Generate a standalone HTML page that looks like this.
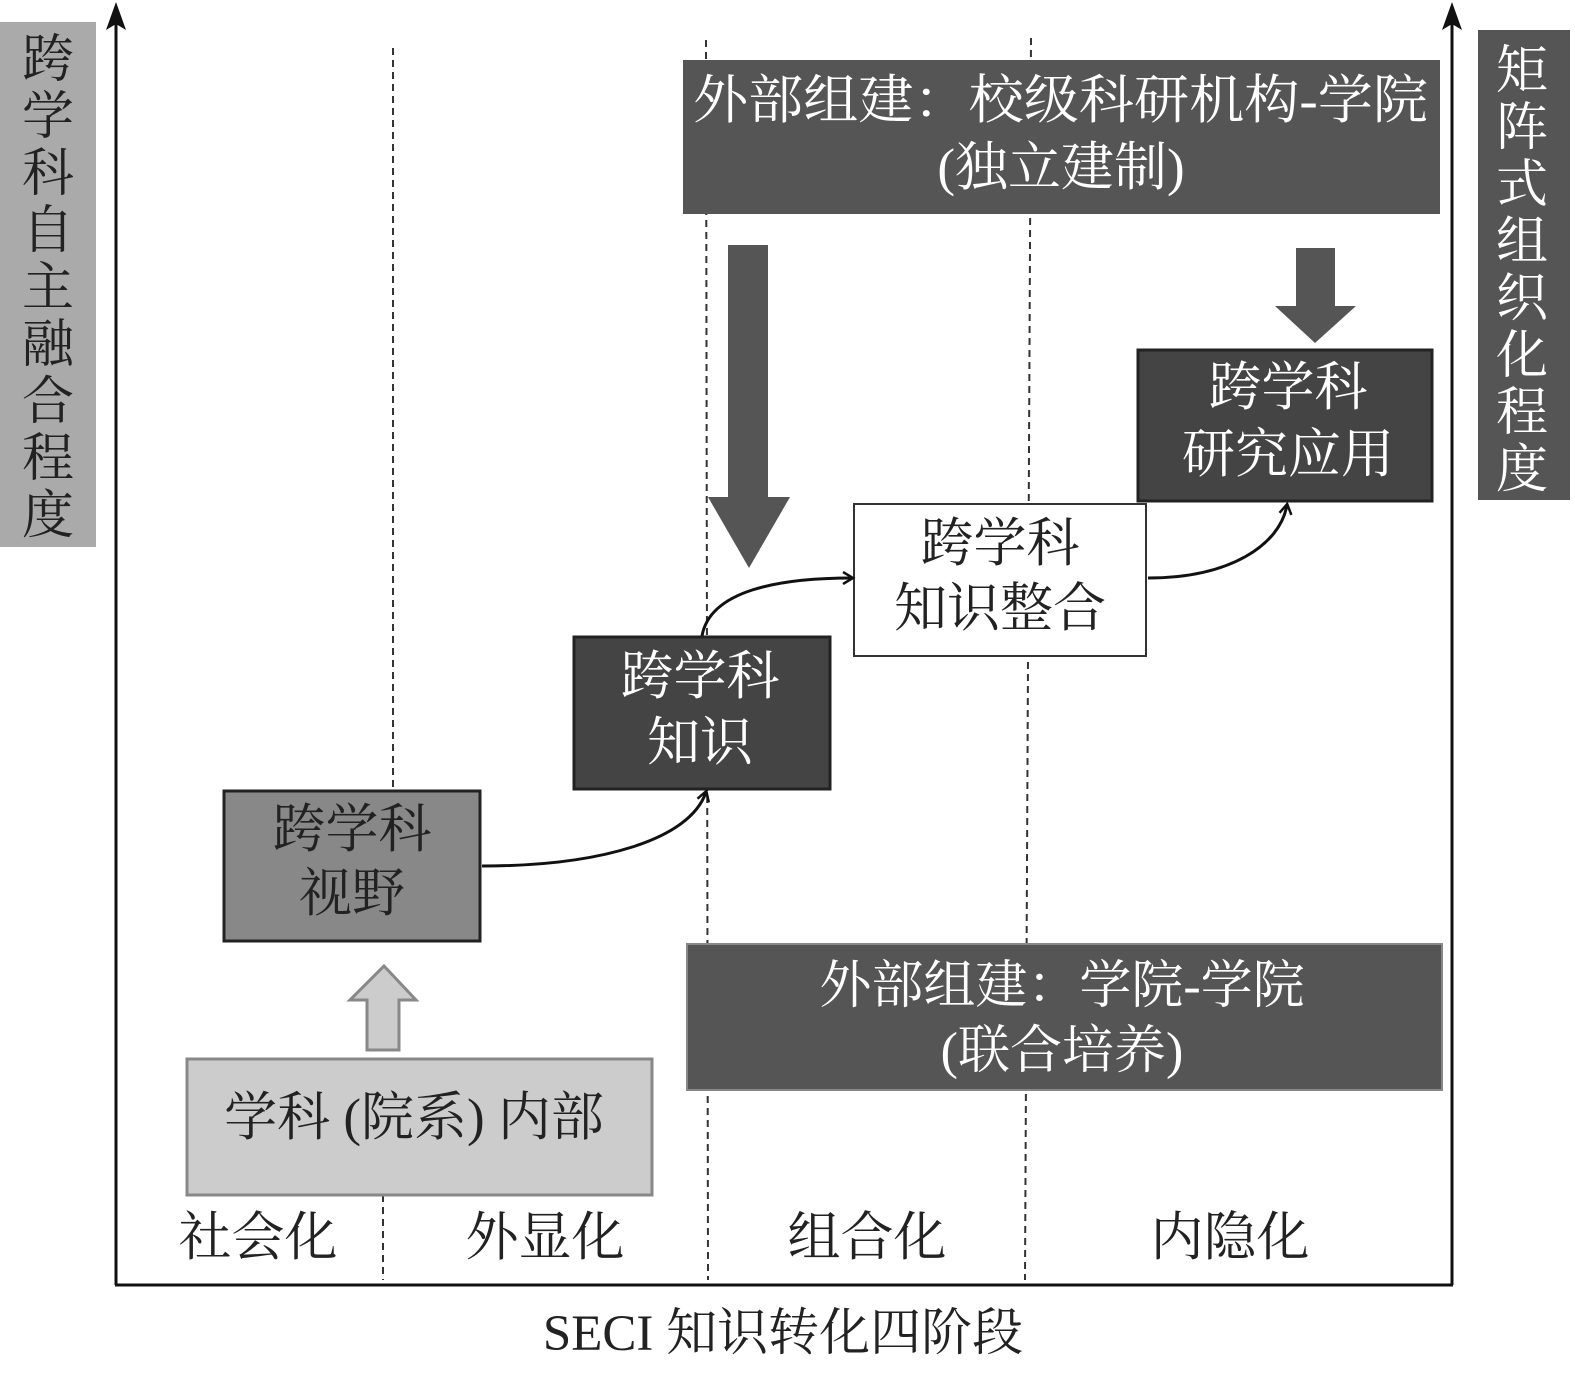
<!DOCTYPE html>
<html><head><meta charset="utf-8"><style>
html,body{margin:0;padding:0;background:#fff;}
svg{display:block;}
text{font-family:"Liberation Serif","Noto Serif CJK SC",serif;}
</style></head><body>
<svg width="1575" height="1377" viewBox="0 0 1575 1377" xmlns="http://www.w3.org/2000/svg">
<defs>
<marker id="ah" markerWidth="14" markerHeight="14" refX="10" refY="7" orient="auto" markerUnits="userSpaceOnUse">
<path d="M1,1 L11,7 L1,13" fill="none" stroke="#111" stroke-width="2.5"/>
</marker>
</defs>
<g stroke="#333" stroke-width="2" stroke-dasharray="7,5" fill="none">
<line x1="393" y1="48" x2="393" y2="790"/>
<line x1="383" y1="1195" x2="383" y2="1280"/>
<line x1="706" y1="40" x2="708" y2="1280"/>
<line x1="1031" y1="38" x2="1025" y2="1280"/>
</g>
<g stroke="#111" stroke-width="3" fill="none">
<line x1="116" y1="20" x2="116" y2="1285"/>
<line x1="115" y1="1285" x2="1453" y2="1285"/>
<line x1="1452" y1="20" x2="1452" y2="1285"/>
</g>
<polygon points="116,2 106,30 116,24 126,30" fill="#111"/>
<polygon points="1452,2 1442,30 1452,24 1462,30" fill="#111"/>
<rect x="0" y="22" width="96" height="525" fill="#aaa"/>
<text font-size="52" fill="#222" text-anchor="middle">
<tspan x="48" y="77">跨</tspan><tspan x="48" y="134">学</tspan><tspan x="48" y="191">科</tspan><tspan x="48" y="248">自</tspan><tspan x="48" y="305">主</tspan><tspan x="48" y="362">融</tspan><tspan x="48" y="419">合</tspan><tspan x="48" y="476">程</tspan><tspan x="48" y="533">度</tspan>
</text>
<rect x="1478" y="30" width="92" height="470" fill="#555"/>
<text font-size="52" fill="#fff" text-anchor="middle">
<tspan x="1522" y="88">矩</tspan><tspan x="1522" y="145">阵</tspan><tspan x="1522" y="202">式</tspan><tspan x="1522" y="259">组</tspan><tspan x="1522" y="316">织</tspan><tspan x="1522" y="373">化</tspan><tspan x="1522" y="430">程</tspan><tspan x="1522" y="487">度</tspan>
</text>
<rect x="683" y="60" width="757" height="154" fill="#555"/>
<text font-size="53" fill="#fff" x="693" y="118" textLength="735" lengthAdjust="spacingAndGlyphs">外部组建：校级科研机构-学院</text>
<text font-size="53" fill="#fff" text-anchor="middle" x="1061" y="185">(独立建制)</text>
<rect x="687" y="944" width="755" height="146" fill="#555" stroke="#888" stroke-width="2"/>
<text font-size="52" fill="#fff" text-anchor="middle"><tspan x="1062" y="1003">外部组建：学院-学院</tspan><tspan x="1062" y="1068">(联合培养)</tspan></text>
<polygon points="728,245 768,245 768,497 790,497 749,568 708,497 728,497" fill="#555"/>
<polygon points="1296,248 1335,248 1335,306 1356,306 1315,343 1275,306 1296,306" fill="#555"/>
<rect x="224" y="791" width="256" height="150" fill="#888" stroke="#222" stroke-width="3"/>
<text font-size="53" fill="#222" text-anchor="middle"><tspan x="352" y="847">跨学科</tspan><tspan x="352" y="911">视野</tspan></text>
<rect x="574" y="637" width="256" height="152" fill="#444" stroke="#222" stroke-width="3"/>
<text font-size="53" fill="#fff" text-anchor="middle"><tspan x="700" y="694">跨学科</tspan><tspan x="700" y="760">知识</tspan></text>
<rect x="854" y="504" width="292" height="152" fill="#fff" stroke="#333" stroke-width="2"/>
<text font-size="53" fill="#222" text-anchor="middle"><tspan x="1000" y="561">跨学科</tspan><tspan x="1000" y="626">知识整合</tspan></text>
<rect x="1138" y="350" width="294" height="151" fill="#444" stroke="#222" stroke-width="3"/>
<text font-size="53" fill="#fff" text-anchor="middle"><tspan x="1288" y="405">跨学科</tspan><tspan x="1288" y="472">研究应用</tspan></text>
<rect x="187" y="1059" width="465" height="136" fill="#ccc" stroke="#888" stroke-width="3"/>
<text font-size="53" fill="#222" text-anchor="middle" x="414" y="1135">学科 (院系) 内部</text>
<polygon points="384,966 416,1000 399,1000 399,1050 367,1050 367,1000 350,1000" fill="#ccc" stroke="#888" stroke-width="3"/>
<g fill="none" stroke="#111" stroke-width="3" marker-end="url(#ah)">
<path d="M482,866 C600,866 690,840 706,792"/>
<path d="M702,636 C710,590 780,578 852,578"/>
<path d="M1148,578 C1230,578 1280,545 1287,505"/>
</g>
<text font-size="53" fill="#222" text-anchor="middle">
<tspan x="258" y="1255">社会化</tspan><tspan x="545" y="1255">外显化</tspan><tspan x="867" y="1255">组合化</tspan><tspan x="1230" y="1255">内隐化</tspan>
</text>
<text font-size="51" fill="#222" text-anchor="middle" x="783" y="1350">SECI 知识转化四阶段</text>
</svg>
</body></html>
